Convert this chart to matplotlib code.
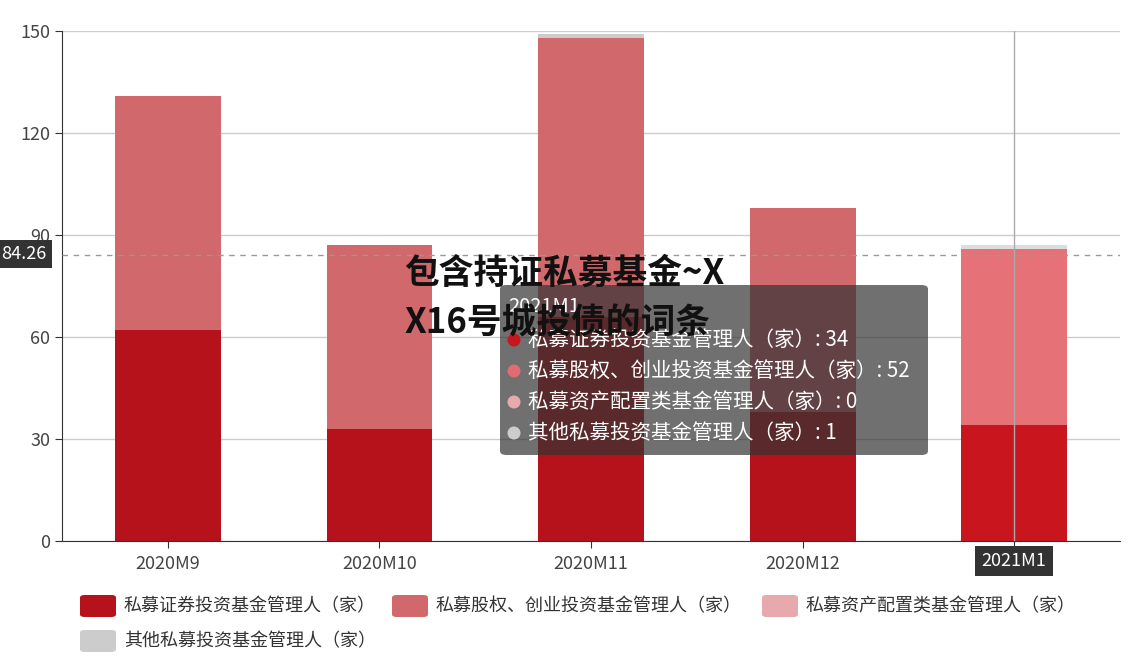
import matplotlib.pyplot as plt
import numpy as np
from matplotlib.patches import FancyBboxPatch, Ellipse

plt.rcParams['font.family'] = ['Noto Sans CJK SC', 'DejaVu Sans']

categories = ['2020M9', '2020M10', '2020M11', '2020M12', '2021M1']
series_names = ['私募证券投资基金管理人（家）', '私募股权、创业投资基金管理人（家）',
                '私募资产配置类基金管理人（家）', '其他私募投资基金管理人（家）']
securities = [62, 33, 66, 38, 34]
equity = [69, 54, 82, 60, 52]
allocation = [0, 0, 0, 0, 0]
other = [0, 0, 1, 0, 1]
yticks = [0, 30, 60, 90, 120, 150]
pointer_value = 84.26
hover_idx = 4

colors = ['#b5121b', '#d0686c', '#e8a9ad', '#cccccc']
hover_colors = ['#c9151e', '#e67277', '#eeb4b7', '#dddddd']

W, H = 1131, 660
fig = plt.figure(figsize=(W / 100, H / 100), dpi=100)


def fx(x):
    return x / W


def fy(y):
    return 1 - y / H


ax = fig.add_axes([fx(62), fy(541), fx(1120) - fx(62), fy(31) - fy(541)])

x = np.arange(len(categories))
bottom = np.zeros(len(categories))
for vals, c, hc in zip([securities, equity, allocation, other], colors, hover_colors):
    cols = [hc if i == hover_idx else c for i in range(len(categories))]
    ax.bar(x, vals, width=0.5, bottom=bottom, color=cols, zorder=2)
    bottom += np.array(vals)

ax.set_xlim(-0.5, len(categories) - 0.5)
ax.set_ylim(0, 150)
ax.set_yticks(yticks)
ax.set_xticks(x)
ax.set_xticklabels(categories)
ax.yaxis.grid(True, color='#cccccc', linewidth=1, zorder=0)
ax.set_axisbelow(True)
for s in ['top', 'right']:
    ax.spines[s].set_visible(False)
ax.spines['left'].set_color('#333333')
ax.spines['bottom'].set_color('#333333')
ax.tick_params(axis='both', colors='#333333', labelsize=13, length=5, labelcolor='#444444')
ax.tick_params(axis='x', pad=5)

# axis pointer
ax.axhline(pointer_value, color='#999999', linestyle=(0, (4, 4)), linewidth=1, zorder=3)
ax.axvline(hover_idx, color='#aaaaaa', linewidth=1, zorder=3)
ax.get_xticklabels()[hover_idx].set_visible(False)
fig.text(fx(1014), fy(561), categories[hover_idx], color='white', fontsize=13,
         ha='center', va='center',
         bbox=dict(boxstyle='square,pad=0.35', fc='#333333', ec='none'))
fig.text(fx(24), fy(254), f'{pointer_value:.2f}', color='white', fontsize=13,
         ha='center', va='center',
         bbox=dict(boxstyle='square,pad=0.3', fc='#333333', ec='none'))

# tooltip
tip = FancyBboxPatch((fx(500), fy(455)), fx(928) - fx(500), fy(285) - fy(455),
                     boxstyle='round,pad=0,rounding_size=0.006', transform=fig.transFigure,
                     fc=(0.2, 0.2, 0.2, 0.7), ec='none', zorder=5)
fig.patches.append(tip)
fig.text(fx(508), fy(306), categories[hover_idx], color='white', fontsize=14.5,
         va='center', zorder=6)
tip_vals = [securities[hover_idx], equity[hover_idx], allocation[hover_idx], other[hover_idx]]
tip_dot = ['#c8161e', '#e06b70', '#e8a9ad', '#cccccc']
for i, (name, v) in enumerate(zip(series_names, tip_vals)):
    yy = 340 + i * 31
    fig.patches.append(Ellipse((fx(514), fy(yy)), 13 / W, 13 / H, transform=fig.transFigure,
                               fc=tip_dot[i], ec='none', zorder=6))
    fig.text(fx(528), fy(yy), f'{name}: {v}', color='white', fontsize=14.8,
             va='center', zorder=6)

# overlay title
fig.text(fx(404), fy(273), '包含持证私募基金~X', fontsize=25, fontweight='bold',
         color='#111111', va='center', zorder=7)
fig.text(fx(404), fy(323), 'X16号城投债的词条', fontsize=25, fontweight='bold',
         color='#111111', va='center', zorder=7)

# legend
leg_pos = [(80, 606), (392, 606), (762, 606), (80, 641)]
for (lx, ly), name, c in zip(leg_pos, series_names, colors):
    fig.patches.append(FancyBboxPatch((fx(lx), fy(ly + 11)), 36 / W, 22 / H,
                                      boxstyle='round,pad=0,rounding_size=0.004',
                                      transform=fig.transFigure, fc=c, ec='none'))
    fig.text(fx(lx + 44), fy(ly), name, fontsize=13, color='#333333', va='center')

fig.savefig('out.png', dpi=100)
